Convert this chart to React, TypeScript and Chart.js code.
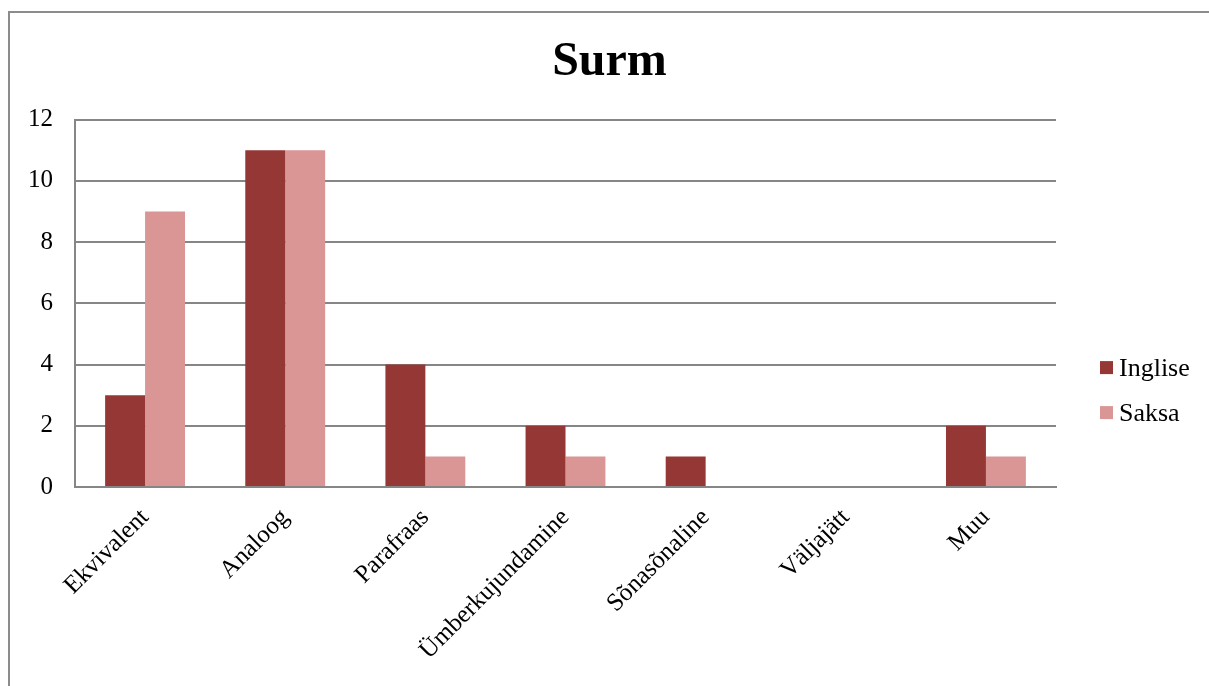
import React, { useEffect, useRef } from "react";
import { Chart, registerables } from "chart.js";

Chart.register(...registerables);

const categories = [
  "Ekvivalent",
  "Analoog",
  "Parafraas",
  "Ümberkujundamine",
  "Sõnasõnaline",
  "Väljajätt",
  "Muu",
];
const inglise = [3, 11, 4, 2, 1, 0, 2];
const saksa = [9, 11, 1, 1, 0, 0, 1];
const seriesNames = ["Inglise", "Saksa"];
const seriesColors = ["#953735", "#D99694"];
const titleText = "Surm";

const SERIF = '"Liberation Serif", "Times New Roman", serif';
const GRID = "#868686";

// Legend drawn to the right of the plot, stacked vertically like an Excel chart legend.
const sideLegend = {
  id: "sideLegend",
  afterDraw(chart: any) {
    const { ctx, chartArea } = chart;
    const x = chartArea.right + 44;
    const midY = chartArea.top + 271;
    const gap = 45;
    ctx.save();
    ctx.font = `26px ${SERIF}`;
    ctx.textBaseline = "middle";
    ctx.textAlign = "left";
    chart.data.datasets.forEach((ds: any, i: number) => {
      const cy = midY + (i - (chart.data.datasets.length - 1) / 2) * gap;
      ctx.fillStyle = ds.backgroundColor;
      ctx.fillRect(x, cy - 7, 13, 13);
      ctx.fillStyle = "#000";
      ctx.fillText(ds.label, x + 19, cy + 1);
    });
    ctx.restore();
  },
};

export default function App() {
  const canvasRef = useRef<HTMLCanvasElement | null>(null);

  useEffect(() => {
    if (!canvasRef.current) return;
    const chart = new Chart(canvasRef.current, {
      type: "bar",
      data: {
        labels: categories,
        datasets: [
          { label: seriesNames[0], data: inglise, backgroundColor: seriesColors[0] },
          { label: seriesNames[1], data: saksa, backgroundColor: seriesColors[1] },
        ],
      },
      options: {
        animation: false,
        responsive: true,
        maintainAspectRatio: false,
        layout: { padding: 0 },
        datasets: {
          bar: { categoryPercentage: 0.57, barPercentage: 1.0, borderWidth: 0 },
        },
        plugins: {
          legend: { display: false },
          tooltip: { enabled: false },
          title: {
            display: true,
            text: titleText,
            color: "#000",
            font: { family: SERIF, size: 48, weight: "bold", lineHeight: 1.2 },
            padding: { top: 21, bottom: 28 },
          },
        },
        scales: {
          x: {
            grid: { display: false, drawTicks: false },
            border: { display: true, color: GRID, width: 2 },
            ticks: {
              color: "#000",
              font: { family: SERIF, size: 25 },
              maxRotation: 45,
              minRotation: 45,
              padding: 16,
              autoSkip: false,
            },
            afterFit(scale: any) {
              scale.height = 199;
              scale.paddingLeft = 0;
              scale.paddingRight = 0;
            },
          },
          y: {
            min: 0,
            max: 12,
            grid: { color: GRID, lineWidth: 2, drawTicks: false },
            border: { display: true, color: GRID, width: 2 },
            ticks: {
              stepSize: 2,
              color: "#000",
              font: { family: SERIF, size: 25 },
              padding: 22,
            },
            afterFit(scale: any) {
              scale.width = 65;
              scale.paddingTop = 0;
              scale.paddingBottom = 0;
            },
          },
          // empty right-hand box that keeps room for the legend
          legendSpace: {
            type: "linear",
            position: "right",
            display: true,
            grid: { display: false, drawTicks: false },
            border: { display: false },
            ticks: { display: false },
            afterFit(scale: any) {
              scale.width = 153;
              scale.paddingTop = 0;
              scale.paddingBottom = 0;
            },
          },
        },
      },
      plugins: [sideLegend],
    } as any);
    return () => chart.destroy();
  }, []);

  return (
    <div
      style={{
        position: "fixed",
        left: 0,
        top: 0,
        width: 1209,
        height: 686,
        overflow: "hidden",
        background: "#fff",
      }}
    >
      <div
        style={{
          position: "absolute",
          left: 8,
          top: 11,
          width: 1300,
          height: 800,
          border: "2px solid #8c8c8c",
        }}
      />
      <div style={{ position: "absolute", left: 10, top: 13, width: 1199, height: 673 }}>
        <canvas ref={canvasRef} />
      </div>
    </div>
  );
}
